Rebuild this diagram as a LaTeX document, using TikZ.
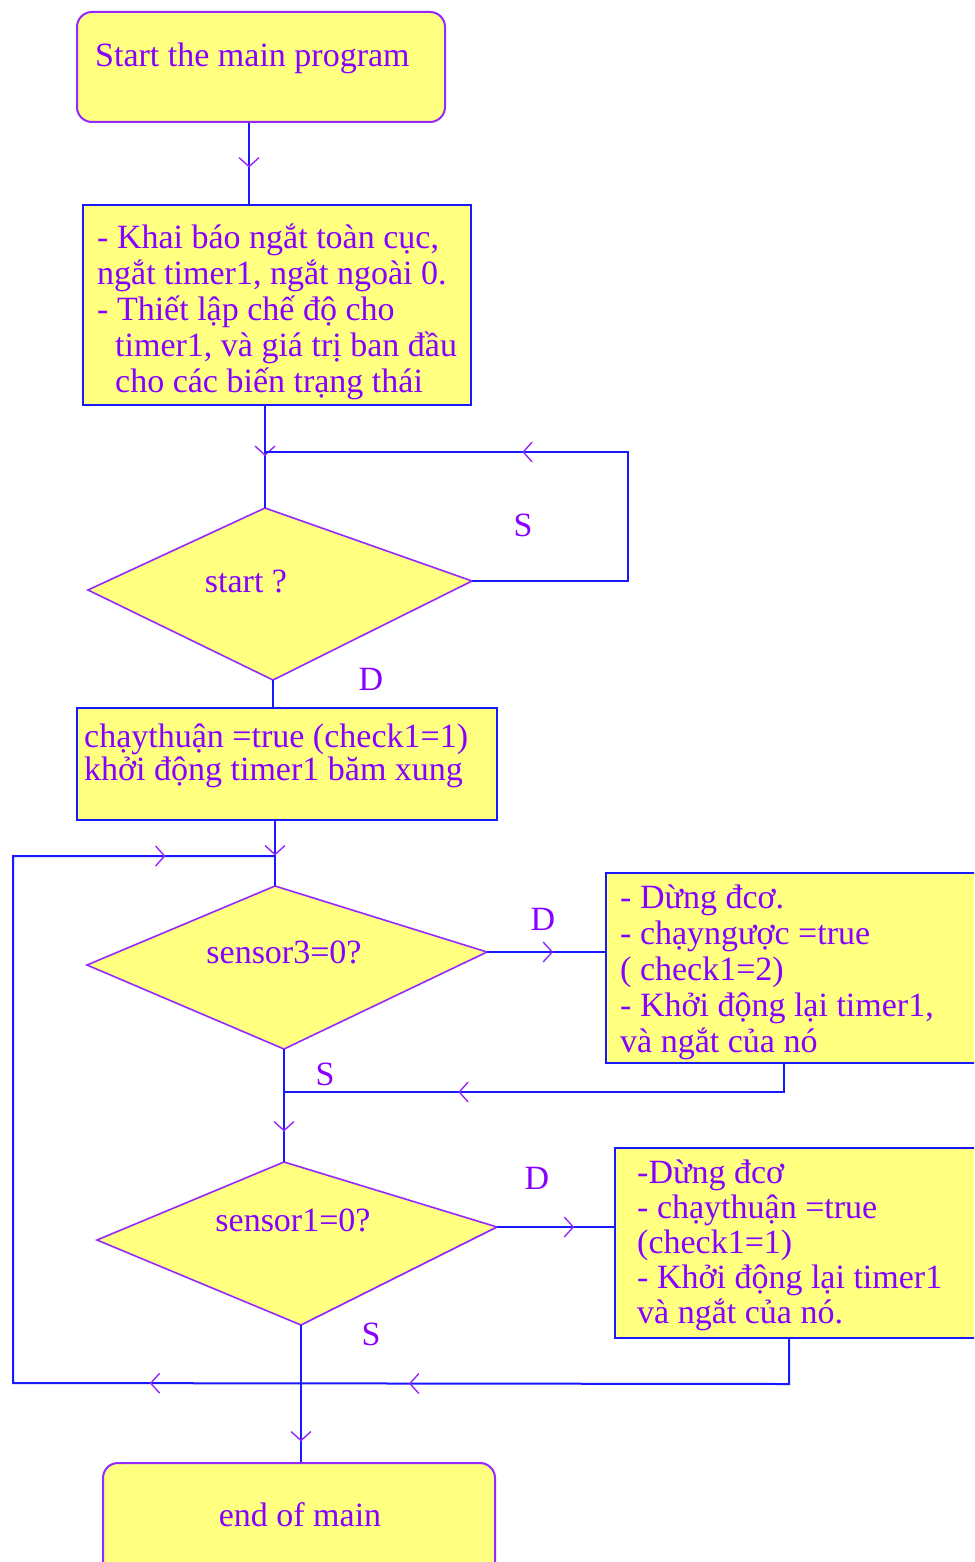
\documentclass[tikz,border=0pt]{standalone}
\usepackage{fontspec}
\setmainfont{Liberation Serif}
\usetikzlibrary{arrows.meta,decorations.markings}

\definecolor{flowblue}{RGB}{25,25,255}
\definecolor{inkviolet}{RGB}{136,0,255}
\definecolor{edgeviolet}{RGB}{150,40,255}
\definecolor{padyellow}{RGB}{255,255,128}

% invisible strut that fixes the top of a paragraph above its first baseline
\newcommand\firstline{\rule{0pt}{34pt}}

\tikzset{
  x=1pt, y=-1pt,
  flow/.style={draw=flowblue, line width=2pt},
  barb/.tip={Straight Barb[length=9pt,width=20pt,line width=1.4pt,color=edgeviolet]},
  midtip/.style={postaction={decorate,decoration={markings,
      mark=at position #1 with {\arrow{barb}}}}},
  procbox/.style={draw=flowblue, fill=padyellow, line width=2pt, inner sep=0pt},
  termbox/.style={procbox, draw=edgeviolet, rounded corners=15pt},
  decision/.style={draw=edgeviolet, fill=padyellow, line width=1.6pt, line join=miter},
  txt/.style={text=inkviolet, font=\fontsize{34}{36}\selectfont, inner sep=0pt},
  para/.style={txt, anchor=north west, align=left},
}

\begin{document}
\begin{tikzpicture}
\useasboundingbox (0,0) rectangle (974,1562);
\clip (0,0) rectangle (974,1562);
\fill[white] (0,0) rectangle (974,1562);

% ---------- boxes ----------
\node[termbox, minimum width=368, minimum height=110] (st) at (261,67) {};
\node[procbox, minimum width=388, minimum height=200] (b2) at (277,305) {};
\node[procbox, minimum width=420, minimum height=112] (b3) at (287,764) {};
\node[procbox, minimum width=394, minimum height=190] (b4) at (803,968) {};
\node[procbox, minimum width=385, minimum height=190] (b5) at (807.5,1243) {};
\node[termbox, minimum width=392, minimum height=137] (en) at (299,1531.5) {};

% ---------- decisions ----------
\path[decision] (88,590) coordinate (d1l) -- (265,508) coordinate (d1t)
  -- (472,581) coordinate (d1r) -- (273,680) coordinate (d1b) -- cycle;
\path[decision] (87,965) coordinate (d2l) -- (275,886) coordinate (d2t)
  -- (487,952) coordinate (d2r) -- (284,1049) coordinate (d2b) -- cycle;
\path[decision] (97,1240) coordinate (d3l) -- (284,1162) coordinate (d3t)
  -- (497,1227) coordinate (d3r) -- (301,1325) coordinate (d3b) -- cycle;

% junctions where loops rejoin the main line
\coordinate (j1) at (265,452);
\coordinate (j2) at (275,856);
\coordinate (j3) at (284,1092);

% ---------- connectors ----------
\draw[flow, midtip=0.55] ([xshift=-12pt]st.south) -- ([xshift=-12pt]st.south |- b2.north);
\draw[flow, midtip=0.49] (d1t |- b2.south) -- (d1t);
\draw[flow, midtip=0.603] (d1r) -| (628,452) -- (j1);
\draw[flow] (d1b) -- (d1b |- b3.north);
\draw[flow, midtip=0.53] (d2t |- b3.south) -- (d2t);
\draw[flow, midtip=0.56] (d2r) -- (b4.west |- d2r);
\draw[flow, midtip=0.67] ([xshift=179pt]b4.south west) |- (j3);
\draw[flow, midtip=0.73] (d2b) -- (d3t);
\draw[flow, midtip=0.66] (d3r) -- (b5.west |- d3r);
\draw[flow, midtip=0.264, midtip=0.425, midtip=0.932]
  ([xshift=175pt]b5.south west) -- ++(0,45) -- (13,1383) -- (13,856) -- (j2);
\draw[flow, midtip=0.85] (d3b) -- (d3b |- en.north);

% ---------- texts ----------
\node[txt, anchor=base west] (tst) at (95,67) {Start the main program};
\node[para] (t2) at (97,214) {\firstline- Khai báo ngắt toàn cục,\\
  ngắt timer1, ngắt ngoài 0.\\
  - Thiết lập chế độ cho\\
  \hspace*{18pt}timer1, và giá trị ban đầu\\
  \hspace*{18pt}cho các biến trạng thái};
\node[txt, anchor=base] (q1) at (246,592) {start ?};
\node[para, font=\fontsize{34}{33}\selectfont] (t3) at (84,713)
  {\firstline chạythuận =true (check1=1)\\khởi động timer1 băm xung};
\node[txt, anchor=base] (q2) at (284,963) {sensor3=0?};
\node[para] (t4) at (620,874) {\firstline- Dừng đcơ.\\
  - chạyngược =true\\
  ( check1=2)\\
  - Khởi động lại timer1,\\
  và ngắt của nó};
\node[txt, anchor=base] (q3) at (293,1231) {sensor1=0?};
\node[para, font=\fontsize{34}{35}\selectfont] (t5) at (637,1149) {\firstline-Dừng đcơ\\
  - chạythuận =true\\
  (check1=1)\\
  - Khởi động lại timer1\\
  và ngắt của nó.};
\node[txt, anchor=base] (ten) at (300,1526) {end of main};

% branch labels
\node[txt, anchor=base] (s1) at (523,536) {S};
\node[txt, anchor=base] (y1) at (371,690) {D};
\node[txt, anchor=base] (y2) at (543,930) {D};
\node[txt, anchor=base] (s2) at (325,1085) {S};
\node[txt, anchor=base] (y3) at (537,1189) {D};
\node[txt, anchor=base] (s3) at (371,1345) {S};
\end{tikzpicture}
\end{document}
